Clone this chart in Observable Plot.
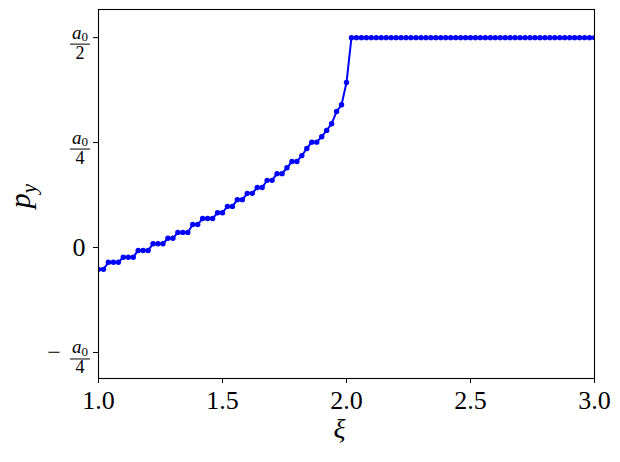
<!DOCTYPE html>
<html><head><meta charset="utf-8">
<script src="https://cdn.jsdelivr.net/npm/d3@7"></script>
<script src="https://cdn.jsdelivr.net/npm/@observablehq/plot@0.6"></script>
<style>html,body{margin:0;padding:0;background:#fff}</style>
</head><body><div id="chart"></div>
<script>
// ξ values (sample grid) and p_y values in units of a0
const xi = [1.00,1.02,1.04,1.06,1.08,1.10,1.12,1.14,1.16,1.18,
            1.20,1.22,1.24,1.26,1.28,1.30,1.32,1.34,1.36,1.38,
            1.40,1.42,1.44,1.46,1.48,1.50,1.52,1.54,1.56,1.58,
            1.60,1.62,1.64,1.66,1.68,1.70,1.72,1.74,1.76,1.78,
            1.80,1.82,1.84,1.86,1.88,1.90,1.92,1.94,1.96,1.98,
            2.00,2.02,2.04,2.06,2.08,2.10,2.12,2.14,2.16,2.18,
            2.20,2.22,2.24,2.26,2.28,2.30,2.32,2.34,2.36,2.38,
            2.40,2.42,2.44,2.46,2.48,2.50,2.52,2.54,2.56,2.58,
            2.60,2.62,2.64,2.66,2.68,2.70,2.72,2.74,2.76,2.78,
            2.80,2.82,2.84,2.86,2.88,2.90,2.92,2.94,2.96,2.98,
            3.00];
const py = [-0.052,-0.052,-0.035,-0.035,-0.035,-0.023,-0.023,-0.023,-0.007,-0.007,
            -0.007,0.009,0.009,0.009,0.022,0.022,0.036,0.036,0.036,0.055,
            0.055,0.069,0.069,0.069,0.083,0.083,0.098,0.098,0.114,0.114,
            0.129,0.129,0.143,0.143,0.160,0.160,0.176,0.176,0.190,0.205,
            0.205,0.219,0.236,0.251,0.251,0.264,0.279,0.295,0.324,0.340,
            0.393,0.5,0.5,0.5,0.5,0.5,0.5,0.5,0.5,0.5,
            0.5,0.5,0.5,0.5,0.5,0.5,0.5,0.5,0.5,0.5,
            0.5,0.5,0.5,0.5,0.5,0.5,0.5,0.5,0.5,0.5,
            0.5,0.5,0.5,0.5,0.5,0.5,0.5,0.5,0.5,0.5,
            0.5,0.5,0.5,0.5,0.5,0.5,0.5,0.5,0.5,0.5,
            0.5];

const xTicks = [1.0, 1.5, 2.0, 2.5, 3.0];
const xTickLabels = ["1.0", "1.5", "2.0", "2.5", "3.0"];
const yTicks = [-0.25, 0, 0.25, 0.5];
const yFracTicks = [-0.25, 0.25, 0.5];
const yFracSign = ["−", "", ""];
const yFracDen = ["4", "4", "2"];

const data = xi.map((x, i) => ({x, y: py[i]}));

const serif = "'Liberation Serif', 'DejaVu Serif', serif";

// y-axis tick labels that are fractions (−a0/4, a0/4, a0/2), placed through the y scale
function fractionLabels(index, scales, values, dims) {
  const g = d3.create("svg:g").attr("font-family", serif).attr("fill", "black");
  const cx = dims.marginLeft - 18;
  yFracTicks.forEach((v, i) => {
    const y = scales.y(v);
    const num = g.append("text").attr("x", cx).attr("y", y + 1.5)
      .attr("text-anchor", "middle").attr("font-size", 19);
    num.append("tspan").attr("font-style", "italic").text("a");
    num.append("tspan").attr("font-size", 13).attr("dy", 2.5).text("0");
    g.append("line").attr("x1", cx - 10).attr("x2", cx + 10)
      .attr("y1", y + 7).attr("y2", y + 7).attr("stroke", "black").attr("stroke-width", 1);
    g.append("text").attr("x", cx).attr("y", y + 21.5)
      .attr("text-anchor", "middle").attr("font-size", 18).text(yFracDen[i]);
    if (yFracSign[i]) {
      g.append("text").attr("x", cx - 26).attr("y", y + 8)
        .attr("text-anchor", "middle").attr("font-size", 24).text(yFracSign[i]);
    }
  });
  return g.node();
}

function yLabel(index, scales, values, dims) {
  const t = d3.create("svg:text")
    .attr("transform", `translate(30,196) rotate(-90)`)
    .attr("text-anchor", "middle")
    .attr("font-family", serif)
    .attr("font-size", 30)
    .attr("fill", "black");
  t.append("tspan").attr("font-style", "italic").text("p");
  t.append("tspan").attr("font-style", "italic").attr("font-size", 21).attr("dy", 6).text("y");
  return t.node();
}

const chart = Plot.plot({
  width: 620,
  height: 462,
  marginLeft: 98,
  marginRight: 26,
  marginTop: 9,
  marginBottom: 84,
  style: {fontFamily: serif, background: "#fff", color: "black"},
  x: {domain: [1, 3]},
  y: {domain: [-0.312, 0.567]},
  marks: [
    Plot.line(data, {x: "x", y: "y", stroke: "#0000ff", strokeWidth: 2, clip: true}),
    Plot.dot(data, {x: "x", y: "y", r: 2.7, fill: "#0000ff", stroke: "none", clip: true}),
    Plot.frame({stroke: "black", strokeWidth: 1.1}),
    Plot.axisX(xTicks, {tickSize: 5, tickPadding: 7, fontSize: 26, label: null,
      tickFormat: d => xTickLabels[xTicks.indexOf(d)]}),
    Plot.axisY(yTicks, {tickSize: 5, tickPadding: 8, fontSize: 26, label: null,
      tickFormat: d => d === 0 ? "0" : ""}),
    fractionLabels,
    Plot.text([0], {frameAnchor: "bottom", dx: -7, dy: 59, text: () => "ξ",
      fontSize: 28, fontStyle: "italic", fill: "black"}),
    yLabel
  ]
});
document.getElementById("chart").appendChild(chart);
</script>
</body></html>
